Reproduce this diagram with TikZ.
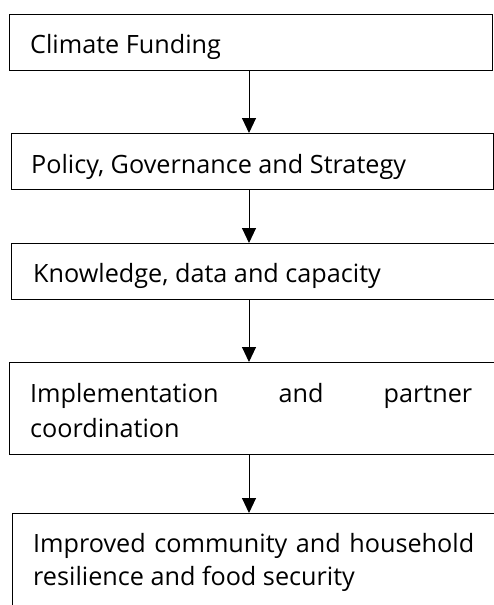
\documentclass[tikz,border=0pt]{standalone}
\usepackage{fontspec}
\setmainfont{Open Sans}
\usetikzlibrary{arrows.meta}
\begin{document}
\begin{tikzpicture}[x=1pt,y=-1pt,
  box/.style={draw=black, line width=1.3pt, rectangle, anchor=north west, inner sep=0pt},
  lbl/.style={anchor=base west, inner sep=0pt, font=\fontsize{25.2}{33}\selectfont},
  flow/.style={line width=1pt, -{Triangle[width=14pt,length=15pt]}}]
\useasboundingbox (0,0) rectangle (494,605);
\fill[white] (0,0) rectangle (494,605);
\coordinate (ax) at (249,0);
\node[box, minimum width=483pt, minimum height=56pt] (b1) at (9,14) {};
\node[box, minimum width=482pt, minimum height=56pt] (b2) at (11,133) {};
\node[box, minimum width=490pt, minimum height=56pt] (b3) at (11,243) {};
\node[box, minimum width=492pt, minimum height=92pt] (b4) at (9,362) {};
\node[box, minimum width=490pt, minimum height=100pt] (b5) at (12,513) {};
\node[lbl] (t1) at (30,53) {Climate Funding};
\node[lbl] (t2) at (31,173) {Policy, Governance and Strategy};
\node[lbl] (t3) at (33,282) {Knowledge, data and capacity};
\node[lbl, text width=442pt, align=justify] (t4) at (30,402) {Implementation\hfill and\hfill partner\\[2pt]coordination};
\node[lbl, text width=441pt, align=justify] (t5) at (33,552) {Improved\hfill community\hfill and\hfill household\\resilience and food security};
\draw[flow] (b1.south -| ax) -- (b2.north -| ax);
\draw[flow] (b2.south -| ax) -- (b3.north -| ax);
\draw[flow] (b3.south -| ax) -- (b4.north -| ax);
\draw[flow] (b4.south -| ax) -- (b5.north -| ax);
\end{tikzpicture}
\end{document}
